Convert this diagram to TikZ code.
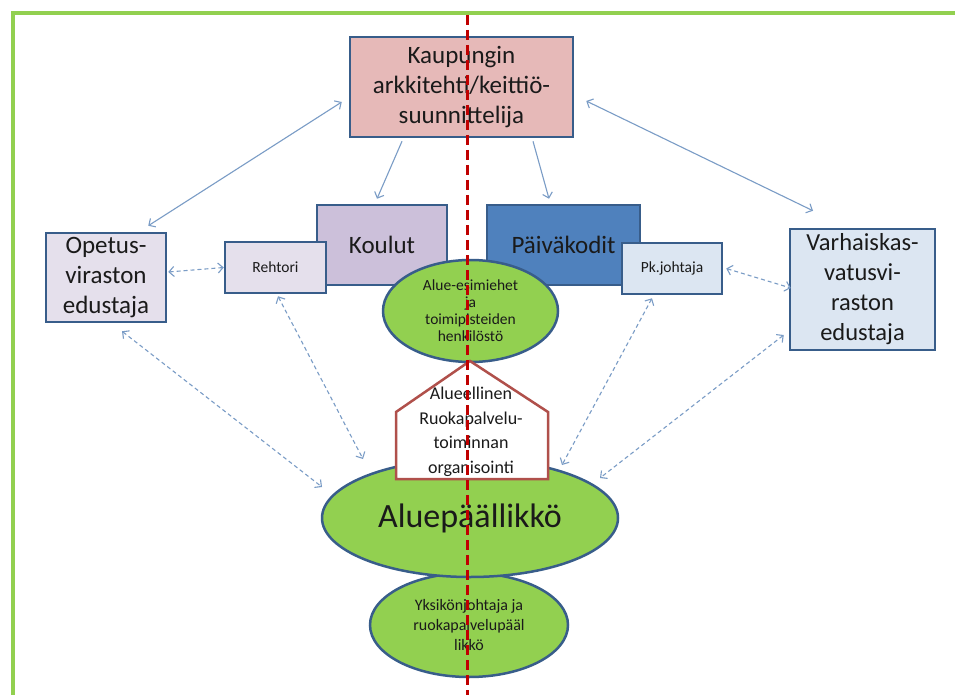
\documentclass[tikz,border=0pt]{standalone}
\usepackage{fontspec}
\setmainfont{Carlito}
\usetikzlibrary{shapes.geometric,arrows.meta}
\definecolor{frameGreen}{HTML}{92D050}
\definecolor{boxBorder}{HTML}{385D8A}
\definecolor{pinkFill}{HTML}{E6B9B8}
\definecolor{lilacFill}{HTML}{CCC0DA}
\definecolor{paleLilac}{HTML}{E5E0EC}
\definecolor{blueFill}{HTML}{4F81BD}
\definecolor{paleBlue}{HTML}{DCE6F2}
\definecolor{leafGreen}{HTML}{92D050}
\definecolor{houseRed}{HTML}{B0504B}
\definecolor{axisRed}{HTML}{C00000}
\definecolor{linkBlue}{HTML}{7A9CC6}
\definecolor{inkDark}{HTML}{1A1A1A}
\tikzset{
  box/.style={draw=boxBorder, line width=2.5pt, rectangle, inner sep=0pt,
    align=center, text=inkDark},
  bigtxt/.style={font=\fontsize{25}{30}\selectfont},
  smalltxt/.style={font=\fontsize{15.5}{17}\selectfont},
  blob/.style={draw=boxBorder, line width=2.5pt, ellipse, fill=leafGreen,
    inner sep=0pt, align=center, text=inkDark},
  link/.style={draw=linkBlue, line width=1.1pt,
    {Straight Barb[length=5pt,width=10pt]}-{Straight Barb[length=5pt,width=10pt]}},
  onelink/.style={draw=linkBlue, line width=1.1pt,
    -{Straight Barb[length=5pt,width=10pt]}},
  dlink/.style={link, dash pattern=on 4pt off 3pt},
}
\begin{document}
\begin{tikzpicture}[x=1pt,y=-1pt]
\useasboundingbox (0,0) rectangle (955,695);
\fill[white] (0,0) rectangle (955,695);
% outer frame
\draw[frameGreen, line width=4pt] (960,13) -- (13,13) -- (13,700);

% top box
\node[box, bigtxt, fill=pinkFill, minimum width=223pt, minimum height=100pt]
  (kaup) at (461.5,87) {Kaupungin\\arkkitehti/keittiö-\\suunnittelija};

% schools and their principal
\node[box, bigtxt, fill=lilacFill, minimum width=130pt, minimum height=80pt]
  (koul) at (382,245) {Koulut};
\node[box, smalltxt, fill=paleLilac, minimum width=101pt, minimum height=51pt]
  (reht) at (275.5,267.5) {Rehtori};

% day care and its head
\node[box, bigtxt, fill=blueFill, minimum width=153pt, minimum height=80pt]
  (paiv) at (563.5,245) {Päiväkodit};
\node[box, smalltxt, fill=paleBlue, minimum width=100pt, minimum height=51pt]
  (pk) at (672,268.5) {Pk.johtaja};

% side offices
\node[box, bigtxt, fill=paleLilac, minimum width=120pt, minimum height=89pt]
  (opet) at (106,277.5) {Opetus-\\viraston\\edustaja};
\node[box, font=\fontsize{24.5}{30}\selectfont, fill=paleBlue,
  minimum width=145pt, minimum height=121pt]
  (varh) at (862.5,289.5) {Varhaiskas-\\vatusvi-\\raston\\edustaja};

% area supervisors
\node[blob, smalltxt, minimum width=175pt, minimum height=102pt]
  (esim) at (470.5,311) {Alue-esimiehet\\ja\\toimipisteiden\\henkilöstö};

% unit head and area manager
\node[blob, font=\fontsize{16}{20}\selectfont, minimum width=198pt, minimum height=104pt]
  (yksi) at (469,625) {Yksikönjohtaja ja\\ruokapalvelupääl\\likkö};
\node[blob, font=\fontsize{34}{40}\selectfont, minimum width=296pt, minimum height=118pt]
  (alue) at (470,518) {Aluepäällikkö};

% house-shaped organisation panel
\draw[houseRed, line width=2.5pt, fill=white, line join=miter]
  (470,361) -- (548,412) -- (548,479) -- (396,479) -- (396,412) -- cycle;
\node[align=center, text=inkDark, font=\fontsize{18}{24.5}\selectfont]
  (org) at (471,432) {Alueellinen\\Ruokapalvelu-\\toiminnan\\organisointi};

% solid connectors from the top box
\draw[link] ([xshift=-7pt,yshift=-15pt]kaup.west) -- ([xshift=-19pt,yshift=6pt]opet.north east);
\draw[link] ([xshift=12pt,yshift=-14pt]kaup.east) -- ([xshift=-49.5pt,yshift=17pt]varh.north);
\draw[onelink] ([xshift=-59.5pt,yshift=-3pt]kaup.south) -- ([xshift=-5pt,yshift=5pt]koul.north);
\draw[onelink] ([xshift=71.5pt,yshift=-3pt]kaup.south) -- ([xshift=-14.5pt,yshift=5pt]paiv.north);

% dashed cooperation links
\draw[dlink] ([xshift=1pt,yshift=5.5pt]opet.east) -- (reht.west);
\draw[dlink] ([xshift=3pt]pk.east) -- ([xshift=2pt,yshift=1.5pt]varh.west);
\draw[dlink] ([xshift=16pt,yshift=-8pt]opet.south) -- ([xshift=-148pt,yshift=31pt]alue.center);
\draw[dlink] ([xshift=2.5pt,yshift=-2pt]reht.south) -- ([xshift=-107pt,yshift=59pt]alue.center);
\draw[dlink] ([xshift=-20pt,yshift=-3pt]pk.south) -- ([xshift=92pt,yshift=53pt]alue.center);
\draw[dlink] ([xshift=-5pt,yshift=-45.5pt]varh.west) -- ([xshift=130pt,yshift=40pt]alue.center);

% dividing axis
\coordinate (axtop) at (467,15);
\coordinate (axbot) at (467,695);
\draw[axisRed, line width=3pt, dash pattern=on 10pt off 5pt] (axtop) -- (axbot);
\end{tikzpicture}
\end{document}
